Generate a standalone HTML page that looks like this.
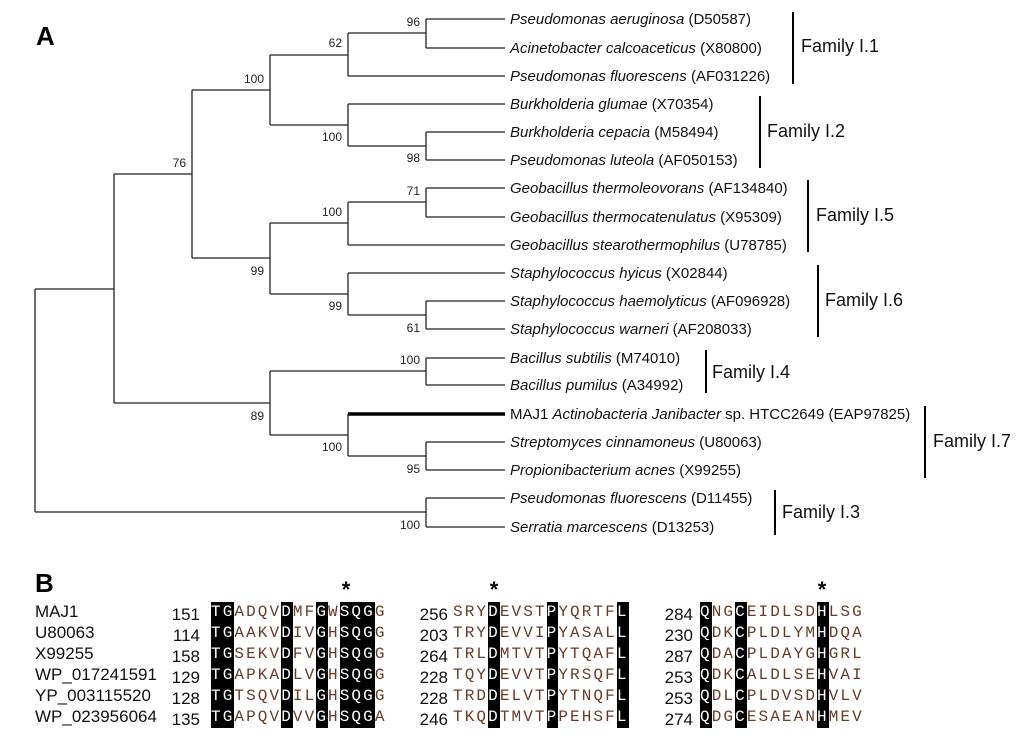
<!DOCTYPE html>
<html><head><meta charset="utf-8"><style>
html,body{margin:0;padding:0;background:#fff;width:1024px;height:743px;overflow:hidden;position:relative;font-family:"Liberation Sans",Arial,sans-serif;}
svg{position:absolute;left:0;top:0}
.nm{position:absolute;left:35px;font-size:17px;color:#111}
.num{position:absolute;font-size:17px;color:#111;text-align:right;width:40px}
.sq{position:absolute;font-family:"Liberation Mono",monospace;font-size:16px;letter-spacing:2.1px;color:#6a3b26;white-space:pre;line-height:21px}
.k{background:#000;color:#fff;display:inline-block;height:21px}
</style></head><body>
<svg width="1024" height="743" viewBox="0 0 1024 743">
<g stroke="#222" stroke-width="1.3" fill="none">
<path d="M426 19H505M426 48H505M348 76H505M348 104H505M426 132H505M426 160H505M426 188H505M426 217H505M348 245H505M348 273H505M426 301H505M426 329H505M426 358H505M426 385H505M426 442H505M426 470H505M426 498H505M426 527H505"/>
<path d="M426 19V48M348 33H426M348 33V76M270 55H348"/>
<path d="M426 132V160M348 146H426M348 104V146M270 125H348M270 55V125M192 90H270"/>
<path d="M426 188V217M348 202H426M348 202V245M270 223H348"/>
<path d="M426 301V329M348 315H426M348 273V315M270 294H348M270 223V294M192 258H270M192 90V258M114 174H192"/>
<path d="M426 358V385M270 371H426"/>
<path d="M426 442V470M348 456H426M348 414V456M270 435H348M270 371V435M114 403H270M114 174V403M35 289H114"/>
<path d="M426 498V527M35 512H426M35 289V512"/>
</g>
<path d="M348 414H505" stroke="#000" stroke-width="3.5"/>
<g stroke="#000" stroke-width="2">
<path d="M793 12V84M760 96V168M808 180V252M818 265V337M706 350V393M925 406V478M775 490V535"/>
</g>
<g font-size="12" fill="#222" text-anchor="end" font-family="Liberation Sans, Arial, sans-serif">
<text x="420" y="26">96</text><text x="342" y="47">62</text><text x="264" y="83">100</text>
<text x="186" y="167">76</text><text x="342" y="141">100</text><text x="420" y="162">98</text>
<text x="420" y="195">71</text><text x="342" y="216">100</text><text x="264" y="275">99</text>
<text x="342" y="310">99</text><text x="420" y="332">61</text><text x="420" y="364">100</text>
<text x="264" y="420">89</text><text x="342" y="451">100</text><text x="420" y="473">95</text>
<text x="420" y="529">100</text>
</g>
<g font-size="15" fill="#111" font-family="Liberation Sans, Arial, sans-serif">
<text x="510" y="24"><tspan font-style="italic">Pseudomonas aeruginosa</tspan> (D50587)</text>
<text x="510" y="53"><tspan font-style="italic">Acinetobacter calcoaceticus</tspan> (X80800)</text>
<text x="510" y="81"><tspan font-style="italic">Pseudomonas fluorescens</tspan> (AF031226)</text>
<text x="510" y="109"><tspan font-style="italic">Burkholderia glumae</tspan> (X70354)</text>
<text x="510" y="137"><tspan font-style="italic">Burkholderia cepacia</tspan> (M58494)</text>
<text x="510" y="165"><tspan font-style="italic">Pseudomonas luteola</tspan> (AF050153)</text>
<text x="510" y="193"><tspan font-style="italic">Geobacillus thermoleovorans</tspan> (AF134840)</text>
<text x="510" y="222"><tspan font-style="italic">Geobacillus thermocatenulatus</tspan> (X95309)</text>
<text x="510" y="250"><tspan font-style="italic">Geobacillus stearothermophilus</tspan> (U78785)</text>
<text x="510" y="278"><tspan font-style="italic">Staphylococcus hyicus</tspan> (X02844)</text>
<text x="510" y="306"><tspan font-style="italic">Staphylococcus haemolyticus</tspan> (AF096928)</text>
<text x="510" y="334"><tspan font-style="italic">Staphylococcus warneri</tspan> (AF208033)</text>
<text x="510" y="363"><tspan font-style="italic">Bacillus subtilis</tspan> (M74010)</text>
<text x="510" y="390"><tspan font-style="italic">Bacillus pumilus</tspan> (A34992)</text>
<text x="510" y="419">MAJ1 <tspan font-style="italic">Actinobacteria Janibacter</tspan> sp. HTCC2649 (EAP97825)</text>
<text x="510" y="447"><tspan font-style="italic">Streptomyces cinnamoneus</tspan> (U80063)</text>
<text x="510" y="475"><tspan font-style="italic">Propionibacterium acnes</tspan> (X99255)</text>
<text x="510" y="503"><tspan font-style="italic">Pseudomonas fluorescens</tspan> (D11455)</text>
<text x="510" y="532"><tspan font-style="italic">Serratia marcescens</tspan> (D13253)</text>
</g>
<g font-size="18" fill="#111" font-family="Liberation Sans, Arial, sans-serif">
<text x="801" y="52">Family I.1</text><text x="767" y="137">Family I.2</text>
<text x="816" y="221">Family I.5</text><text x="825" y="306">Family I.6</text>
<text x="712" y="378">Family I.4</text><text x="933" y="447">Family I.7</text>
<text x="782" y="518">Family I.3</text>
</g>
<g font-size="26" font-weight="bold" fill="#000" font-family="Liberation Sans, Arial, sans-serif">
<text x="36" y="45">A</text><text x="35" y="592">B</text>
</g>
<g font-size="22" font-weight="bold" fill="#000" font-family="Liberation Sans, Arial, sans-serif" text-anchor="middle">
<text x="346" y="597">*</text><text x="494" y="597">*</text><text x="822" y="597">*</text>
</g>
</svg>
<div class="nm" style="top:602px">MAJ1</div>
<div class="nm" style="top:623px">U80063</div>
<div class="nm" style="top:644px">X99255</div>
<div class="nm" style="top:665px">WP_017241591</div>
<div class="nm" style="top:686px">YP_003115520</div>
<div class="nm" style="top:707px">WP_023956064</div>

<div class="num" style="left:160px;top:604px;line-height:21px">151<br>114<br>158<br>129<br>128<br>135</div>
<div class="num" style="left:408px;top:604px;line-height:21px">256<br>203<br>264<br>228<br>228<br>246</div>
<div class="num" style="left:653px;top:604px;line-height:21px">284<br>230<br>287<br>253<br>253<br>274</div>

<div class="sq" style="left:211px;top:602px"><span class="k">TG</span>ADQV<span class="k">D</span>MF<span class="k">G</span>W<span class="k">SQG</span>G
<span class="k">TG</span>AAKV<span class="k">D</span>IV<span class="k">G</span>H<span class="k">SQG</span>G
<span class="k">TG</span>SEKV<span class="k">D</span>FV<span class="k">G</span>H<span class="k">SQG</span>G
<span class="k">TG</span>APKA<span class="k">D</span>LV<span class="k">G</span>H<span class="k">SQG</span>G
<span class="k">TG</span>TSQV<span class="k">D</span>IL<span class="k">G</span>H<span class="k">SQG</span>G
<span class="k">TG</span>APQV<span class="k">D</span>VV<span class="k">G</span>H<span class="k">SQG</span>A</div>

<div class="sq" style="left:453px;top:602px">SRY<span class="k">D</span>EVST<span class="k">P</span>YQRTF<span class="k">L</span>
TRY<span class="k">D</span>EVVI<span class="k">P</span>YASAL<span class="k">L</span>
TRL<span class="k">D</span>MTVT<span class="k">P</span>YTQAF<span class="k">L</span>
TQY<span class="k">D</span>EVVT<span class="k">P</span>YRSQF<span class="k">L</span>
TRD<span class="k">D</span>ELVT<span class="k">P</span>YTNQF<span class="k">L</span>
TKQ<span class="k">D</span>TMVT<span class="k">P</span>PEHSF<span class="k">L</span></div>

<div class="sq" style="left:700px;top:602px"><span class="k">Q</span>NG<span class="k">C</span>EIDLSD<span class="k">H</span>LSG
<span class="k">Q</span>DK<span class="k">C</span>PLDLYM<span class="k">H</span>DQA
<span class="k">Q</span>DA<span class="k">C</span>PLDAYG<span class="k">H</span>GRL
<span class="k">Q</span>DK<span class="k">C</span>ALDLSE<span class="k">H</span>VAI
<span class="k">Q</span>DL<span class="k">C</span>PLDVSD<span class="k">H</span>VLV
<span class="k">Q</span>DG<span class="k">C</span>ESAEAN<span class="k">H</span>MEV</div>
</body></html>
